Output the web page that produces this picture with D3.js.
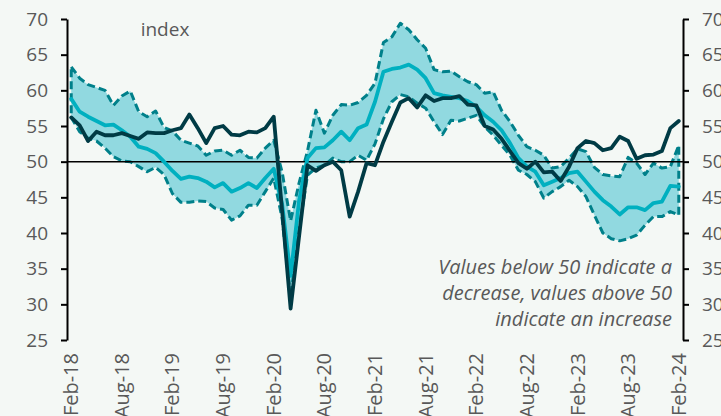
<!DOCTYPE html>
<html>
<head>
<meta charset="utf-8">
<script src="https://cdn.jsdelivr.net/npm/d3@7"></script>
<style>
  body { margin: 0; background: #f4f8f5; }
  svg { display: block; font-family: "Open Sans", sans-serif; }
</style>
</head>
<body>
<svg id="chart" width="721" height="416"></svg>
<script>
/*************************************************************
 *  Data section (monthly, Feb-18 .. Feb-24)
 *************************************************************/

const tick_labels = ["Feb-18", "Aug-18", "Feb-19", "Aug-19", "Feb-20", "Aug-20", "Feb-21",
                     "Aug-21", "Feb-22", "Aug-22", "Feb-23", "Aug-23", "Feb-24"];

// upper edge of the band
const upper = [63.3, 61.7, 60.8, 60.4, 60.0, 57.9, 59.2, 59.9, 57.0, 56.3, 57.1, 54.8,
               54.3, 53.0, 52.6, 52.2, 50.9, 51.5, 51.6, 50.9, 51.6, 50.6, 50.5, 51.9,
               53.0, 48.5, 41.7, 47.0, 51.5, 57.2, 54.0, 56.5, 58.0, 57.9, 58.3, 59.3,
               61.0, 66.7, 67.5, 69.4, 68.5, 67.1, 65.9, 62.9, 62.6, 62.7, 61.9, 61.2,
               60.8, 59.6, 59.8, 57.2, 55.6, 53.7, 52.1, 51.6, 50.9, 49.1, 49.3, 50.5,
               51.8, 51.4, 49.2, 48.2, 48.0, 47.9, 50.6, 49.8, 48.2, 49.8, 49.1, 49.3,
               52.3];

// middle line
const median = [58.8, 57.0, 56.3, 55.7, 55.1, 55.2, 54.4, 53.5, 52.1, 51.8, 51.2, 50.0,
                48.7, 47.6, 47.9, 47.7, 47.2, 46.4, 47.0, 45.8, 46.3, 47.0, 46.3, 47.7,
                49.0, 44.0, 34.0, 44.5, 50.5, 51.9, 52.0, 53.0, 54.2, 53.0, 54.7, 55.2,
                58.4, 62.6, 63.0, 63.2, 63.6, 62.9, 61.7, 59.6, 59.3, 59.1, 58.9, 58.5,
                57.7, 56.5, 55.6, 54.4, 52.6, 50.5, 49.3, 48.6, 46.7, 47.2, 47.7, 48.4,
                48.6, 47.2, 45.8, 44.6, 43.7, 42.6, 43.6, 43.6, 43.2, 44.2, 44.4, 46.6,
                46.5];

// lower edge of the band
const lower = [56.2, 54.2, 53.3, 52.9, 51.9, 50.7, 50.1, 50.0, 49.3, 48.6, 49.2, 48.2,
               45.5, 44.3, 44.3, 44.5, 44.4, 43.5, 43.3, 41.8, 42.4, 43.9, 43.9, 45.8,
               47.7, 42.0, 31.0, 40.5, 48.1, 49.1, 49.5, 50.5, 50.0, 50.0, 50.9, 50.2,
               52.5, 56.0, 58.4, 59.4, 59.1, 58.2, 57.5, 55.6, 53.8, 55.8, 55.7, 56.1,
               56.5, 54.9, 53.7, 52.3, 50.9, 48.8, 48.2, 47.2, 44.9, 45.8, 46.5, 47.4,
               46.5, 45.1, 42.5, 40.0, 39.2, 38.9, 39.2, 39.7, 41.1, 42.3, 42.3, 43.0,
               42.5];

// actual index
const actual = [56.2, 55.1, 52.9, 54.2, 53.7, 53.7, 54.0, 53.6, 53.2, 54.1, 54.0, 54.0,
                54.4, 54.7, 56.6, 54.7, 52.6, 54.7, 55.0, 53.8, 53.7, 54.2, 54.1, 54.7,
                56.3, 43.0, 29.4, 39.5, 49.5, 48.7, 49.5, 50.0, 48.8, 42.3, 45.8, 49.8,
                49.5, 52.8, 55.6, 58.3, 58.9, 57.6, 59.3, 58.5, 58.9, 58.9, 59.2, 58.0,
                57.9, 55.0, 54.5, 53.2, 51.5, 49.8, 49.0, 50.0, 48.5, 48.6, 47.3, 49.3,
                51.9, 52.9, 52.6, 51.6, 51.9, 53.5, 52.9, 50.4, 50.9, 51.0, 51.5, 54.7,
                55.7];

const y_ticks = [25, 30, 35, 40, 45, 50, 55, 60, 65, 70];

/*************************************************************
 *  Drawing section
 *************************************************************/

const svg = d3.select("#chart");
const months = d3.range(actual.length);

const x = d3.scalePoint()
    .domain(months)
    .range([67, 683])
    .padding(0.5);

const y = d3.scaleLinear()
    .domain([25, 70])
    .range([340, 19]);

// band
const band = d3.area()
    .x(i => x(i))
    .y0(i => y(lower[i]))
    .y1(i => y(upper[i]));

svg.append("path")
    .attr("d", band(months))
    .attr("fill", "#91d9e0")
    .attr("stroke", "#00808a")
    .attr("stroke-width", 3)
    .attr("stroke-dasharray", "8,4")
    .attr("stroke-linejoin", "round");

// 50 line
svg.append("line")
    .attr("x1", 67).attr("x2", 683)
    .attr("y1", y(50)).attr("y2", y(50))
    .attr("stroke", "#000")
    .attr("stroke-width", 1.5);

function draw_line(values, color){
    let line = d3.line()
        .x(i => x(i))
        .y(i => y(values[i]));
    svg.append("path")
        .attr("d", line(months))
        .attr("fill", "none")
        .attr("stroke", color)
        .attr("stroke-width", 3.8)
        .attr("stroke-linejoin", "round")
        .attr("stroke-linecap", "round");
}

draw_line(median, "#00b0c0");
draw_line(actual, "#003b45");

// axes
const left_axis = svg.append("g")
    .attr("transform", "translate(67,0)")
    .call(d3.axisLeft(y).tickValues(y_ticks).tickSize(6).tickSizeOuter(0).tickPadding(13));

const right_axis = svg.append("g")
    .attr("transform", "translate(683,0)")
    .call(d3.axisRight(y).tickValues(y_ticks).tickSize(6).tickSizeOuter(0).tickPadding(13));

for (let g of [left_axis, right_axis]) {
    g.select(".domain").attr("stroke", "#000").attr("stroke-width", 2);
    g.selectAll(".tick line").attr("stroke", "#000").attr("stroke-width", 2);
    g.selectAll(".tick text")
        .attr("fill", "#595959")
        .style("font-size", "19px")
        .style("font-family", "'Open Sans', sans-serif");
}

// x labels, every 6 months
svg.append("g")
    .selectAll("text")
    .data(tick_labels)
    .join("text")
    .attr("transform", (d, k) => `translate(${x(k * 6) + 7},353) rotate(-90)`)
    .attr("text-anchor", "end")
    .attr("fill", "#595959")
    .style("font-size", "20px")
    .text(d => d);

// titles and notes
svg.append("text")
    .attr("x", 165).attr("y", 36)
    .attr("text-anchor", "middle")
    .attr("fill", "#595959")
    .style("font-size", "19px")
    .text("index");

const note = ["Values below 50 indicate a", "decrease, values above 50", "indicate an increase"];
svg.append("g")
    .selectAll("text")
    .data(note)
    .join("text")
    .attr("x", 672)
    .attr("y", (d, k) => 274 + k * 26)
    .attr("text-anchor", "end")
    .attr("fill", "#595959")
    .style("font-size", "20px")
    .style("font-style", "italic")
    .text(d => d);
</script>
</body>
</html>
